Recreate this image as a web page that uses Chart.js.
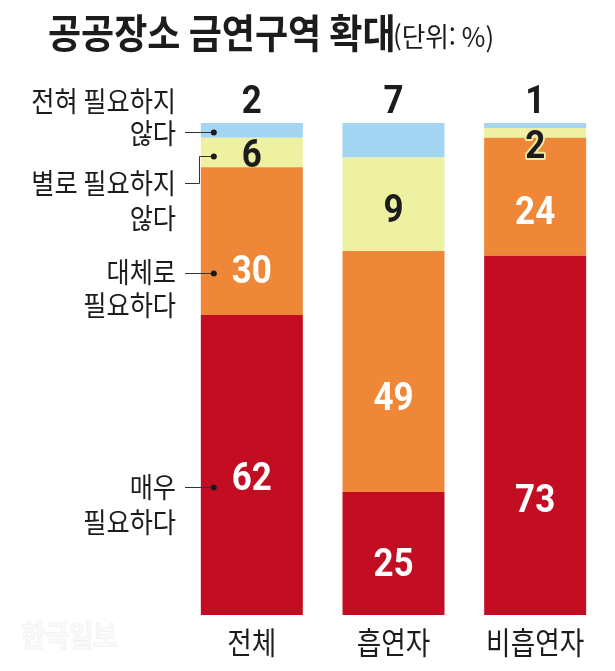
<!DOCTYPE html>
<html lang="ko">
<head>
  <meta charset="UTF-8" />
  <title>공공장소 금연구역 확대</title>
  <script src="https://cdn.jsdelivr.net/npm/chart.js"></script>
  <style>
    html, body { margin: 0; padding: 0; background: #fff; }
    #wrap { width: 615px; height: 671px; }
  </style>
</head>
<body>
  <div id="wrap"><canvas id="chart" width="615" height="671"></canvas></div>

  <script>
    // --- data (percent, block sizes as drawn) ---
    const categories = ['전체', '흡연자', '비흡연자'];
    const veryNeeded   = [61, 25, 73];   // 매우 필요하다
    const mostlyNeeded = [30, 49, 24];   // 대체로 필요하다
    const notReally    = [6, 19, 2];     // 별로 필요하지 않다
    const notAtAll     = [3, 7, 1];      // 전혀 필요하지 않다
    // numbers as printed on the graphic
    const veryText   = ['62', '25', '73'];
    const mostlyText = ['30', '49', '24'];
    const notRText   = ['6', '9', '2'];
    const notAText   = ['2', '7', '1'];

    const KR = '"Noto Sans CJK KR", "Noto Sans", sans-serif';
    const NUM = 'Roboto, "Liberation Sans", sans-serif';
    const INK = '#1c1c1c';

    function txt(ctx, s, x, y, font, color, align, sx, stroke) {
      ctx.save();
      ctx.translate(x, y);
      ctx.scale(sx || 1, 1);
      ctx.font = font;
      ctx.textAlign = align || 'center';
      ctx.textBaseline = 'middle';
      if (stroke) {
        ctx.lineWidth = stroke.w;
        ctx.strokeStyle = stroke.c;
        ctx.lineJoin = 'round';
        ctx.strokeText(s, 0, 0);
      }
      ctx.fillStyle = color;
      ctx.fillText(s, 0, 0);
      ctx.restore();
    }

    // vertical nudge of each number from its block centre (px)
    const labelShift = [
      [16, 13, 67],
      [32, 29, 18],
      [5, 8, 16]
    ];
    const labelText = [veryText, mostlyText, notRText, notAText];
    const labelColor = ['#fff', '#fff', INK, INK];

    const decor = {
      id: 'decor',
      afterDraw(chart) {
        const ctx = chart.ctx;
        const x = chart.scales.x;

        // title
        txt(ctx, '공공장소 금연구역 확대', 48, 33, 'bold 40px ' + KR, INK, 'left', 0.9);
        txt(ctx, '(단위: %)', 393, 37, '27px ' + KR, INK, 'left', 0.95);

        // numbers in / above the blocks
        chart.data.datasets.forEach((ds, di) => {
          const meta = chart.getDatasetMeta(di);
          meta.data.forEach((bar, i) => {
            const s = labelText[di][i];
            let y;
            if (di === 3) {
              y = bar.y - 20;
            } else {
              y = (bar.y + bar.base) / 2 + labelShift[di][i];
            }
            const stroke = (di === 2 && i === 2) ? { w: 4, c: '#f3eaa6' } : null;
            txt(ctx, s, bar.x, y, 'bold 38px ' + NUM, labelColor[di], 'center', 0.92, stroke);
          });
        });

        // category names
        categories.forEach((c, i) => {
          txt(ctx, c, x.getPixelForValue(i), 642, '31px ' + KR, INK, 'center', 0.86);
        });

        // side legend with leader lines
        const first = chart.getDatasetMeta(0).data[0];
        const dotX = first.x - first.width / 2 + 13;
        const tx = 176;
        const f = '28px ' + KR;
        const sx = 0.9;
        txt(ctx, '전혀 필요하지', tx, 101, f, INK, 'right', sx);
        txt(ctx, '않다', tx, 133, f, INK, 'right', sx);
        txt(ctx, '별로 필요하지', tx, 183, f, INK, 'right', sx);
        txt(ctx, '않다', tx, 218, f, INK, 'right', sx);
        txt(ctx, '대체로', tx, 272, f, INK, 'right', sx);
        txt(ctx, '필요하다', tx, 305, f, INK, 'right', sx);
        txt(ctx, '매우', tx, 487, f, INK, 'right', sx);
        txt(ctx, '필요하다', tx, 522, f, INK, 'right', sx);

        ctx.save();
        ctx.strokeStyle = '#333';
        ctx.lineWidth = 1;
        ctx.beginPath();
        ctx.moveTo(185, 132.5); ctx.lineTo(dotX, 132.5);
        ctx.moveTo(dotX, 156.5); ctx.lineTo(199.5, 156.5); ctx.lineTo(199.5, 183.5); ctx.lineTo(185, 183.5);
        ctx.moveTo(185, 273.5); ctx.lineTo(dotX, 273.5);
        ctx.moveTo(185, 487.5); ctx.lineTo(dotX, 487.5);
        ctx.stroke();
        ctx.fillStyle = '#1a1a1a';
        [132.5, 156.5, 273.5, 487.5].forEach(y => {
          ctx.beginPath();
          ctx.arc(dotX, y, 3, 0, Math.PI * 2);
          ctx.fill();
        });
        ctx.restore();

        // faint masthead mark
        txt(ctx, '한국일보', 21, 636, 'bold 29px ' + KR, '#f9f9f9', 'left', 0.9, { w: 1, c: '#ebebeb' });
      }
    };

    const ctx = document.getElementById('chart').getContext('2d');
    new Chart(ctx, {
      type: 'bar',
      data: {
        labels: categories,
        datasets: [
          { label: '매우 필요하다', data: veryNeeded, backgroundColor: '#c30d23' },
          { label: '대체로 필요하다', data: mostlyNeeded, backgroundColor: '#ef8738' },
          { label: '별로 필요하지 않다', data: notReally, backgroundColor: '#eef0a2' },
          { label: '전혀 필요하지 않다', data: notAtAll, backgroundColor: '#a3d5f2' }
        ]
      },
      options: {
        responsive: false,
        animation: false,
        layout: { padding: { top: 123, bottom: 56, left: 181, right: 9 } },
        datasets: { bar: { barPercentage: 0.72, categoryPercentage: 1, borderWidth: 0 } },
        scales: {
          x: { stacked: true, display: false },
          y: { stacked: true, display: false, min: 0, max: 100 }
        },
        plugins: { legend: { display: false }, tooltip: { enabled: false } }
      },
      plugins: [decor]
    });
  </script>
</body>
</html>
